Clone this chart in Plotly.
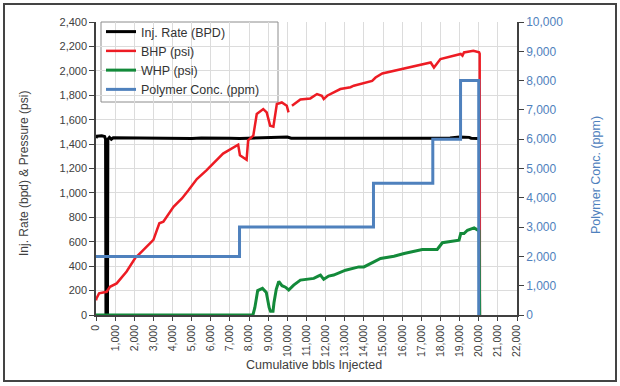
import plotly.graph_objects as go

# ---- data ----
inj_x = [0, 50, 300, 450, 500, 520, 600, 620, 700, 800, 900, 2000, 2800, 4000, 5000, 5500,
         6500, 7000, 7500, 8500, 9000, 10000, 10200, 12000, 14000, 16000, 17000, 18000,
         18500, 19000, 19500, 19600, 19960]
inj_y = [1450, 1465, 1468, 1462, 1440, 0, 0, 1440, 1455, 1440, 1452, 1450, 1445, 1442, 1445,
         1450, 1452, 1448, 1445, 1450, 1458, 1458, 1448, 1447, 1448, 1450, 1448, 1447,
         1450, 1457, 1455, 1448, 1445]

bhp_x = [0, 30, 160, 560, 730, 1080, 1600, 2040, 2480, 3000, 3310, 3520, 4050, 4490, 4830,
         5270, 5770, 6640, 7430, 7520, 7870, 7950, 8220, 8400, 8740, 8920, 9100, 9270, 9450,
         9710, 9970, 10060, 10150, 10240, 10680, 11200, 11550, 11800, 11900, 12080, 12770,
         13300, 13470, 14430, 14610, 14960, 15900, 17490, 17660, 18000, 19060, 19150, 19230,
         19720, 20020, 20050, 20060]
bhp_y = [120, 137, 177, 190, 231, 259, 356, 465, 533, 615, 751, 764, 886, 955, 1022,
         1114, 1185, 1322, 1395, 1308, 1271, 1431, 1469, 1646, 1687, 1660, 1551, 1543, 1728,
         1741, 1714, 1660, None, 1714, 1765, 1774, 1810, 1796, 1769, 1796, 1851,
         1866, 1878, 1918, 1945, 1978, 2013, 2068, 2027, 2096, 2138, 2125, 2151,
         2165, 2151, 2140, 0]

whp_x = [0, 8200, 8300, 8450, 8700, 8900, 9050, 9120, 9250, 9300, 9420, 9550, 9720, 9900,
         10070, 10330, 10680, 11030, 11380, 11640, 11730, 11900, 12160, 12420, 13040, 13730,
         14000, 14520, 14870, 15570, 16100, 17050, 17830, 18100, 18970, 19060, 19230, 19410,
         19760, 20020, 20050]
whp_y = [0, 0, 60, 200, 218, 185, 60, 30, 30, 100, 210, 275, 240, 228,
         205, 245, 286, 295, 300, 320, 327, 292, 319, 327, 367, 394,
         394, 435, 463, 481, 504, 537, 537, 592, 613, 667, 667, 694,
         713, 689, 0]

poly_x = [0, 7500, 14500, 17600, 19050, 20000]
poly_y = [2000, 3000, 4500, 6000, 8000, 0]

x_ticks = list(range(0, 22001, 1000))
y_ticks = list(range(0, 2401, 200))
y2_ticks = list(range(0, 10001, 1000))

series_names = ["Inj. Rate (BPD)", "BHP (psi)", "WHP (psi)", "Polymer Conc. (ppm)"]
x_title = "Cumulative bbls Injected"
y_title = "Inj. Rate (bpd) & Pressure (psi)"
y2_title = "Polymer Conc. (ppm)"

RED = "#ED1C24"
GREEN = "#138A3A"
BLUE = "#4F81BD"
FONT = "Liberation Sans, Arial, sans-serif"
TXT = "#404040"

fig = go.Figure()
fig.add_trace(go.Scatter(x=inj_x, y=inj_y, mode="lines", name=series_names[0],
                         line=dict(color="black", width=3)))
fig.add_trace(go.Scatter(x=bhp_x, y=bhp_y, mode="lines", name=series_names[1],
                         line=dict(color=RED, width=2.5), connectgaps=False))
fig.add_trace(go.Scatter(x=whp_x, y=whp_y, mode="lines", name=series_names[2],
                         line=dict(color=GREEN, width=3)))
fig.add_trace(go.Scatter(x=poly_x, y=poly_y, mode="lines", name=series_names[3],
                         line=dict(color=BLUE, width=3, shape="hv"), yaxis="y2"))

L, R, T, B = 96, 103, 22, 71
W, H = 620, 386
pw, ph = W - L - R, H - T - B


def px(xp):
    return (xp - L) / pw


def py(yp):
    return (H - B - yp) / ph


fig.update_layout(
    width=W, height=H,
    margin=dict(l=L, r=R, t=T, b=B, pad=0),
    paper_bgcolor="white", plot_bgcolor="white",
    font=dict(family=FONT, size=11, color=TXT),
    showlegend=True,
    legend=dict(x=px(101), y=py(17), xanchor="left", yanchor="top",
                bgcolor="rgba(0,0,0,0)", borderwidth=0,
                font=dict(size=12.5, color="#333333"), tracegroupgap=0),
    xaxis=dict(range=[0, 22000], tickvals=x_ticks, tickformat=",", tickangle=-90,
               showgrid=True, gridcolor="#dcdcdc", gridwidth=1,
               showline=True, linecolor="#404040", linewidth=1.5,
               ticks="outside", ticklen=4, tickcolor="#404040",
               zeroline=False, tickfont=dict(size=10.5, color=TXT)),
    yaxis=dict(range=[0, 2400], tickvals=y_ticks, tickformat=",",
               showgrid=True, gridcolor="#dcdcdc", gridwidth=1,
               showline=True, linecolor="#404040", linewidth=1.5,
               ticks="outside", ticklen=5, tickcolor="#404040",
               zeroline=False, tickfont=dict(size=11, color=TXT)),
    yaxis2=dict(range=[0, 10000], tickvals=y2_ticks, tickformat=",", overlaying="y", side="right",
                showgrid=False, showline=True, linecolor="#404040", linewidth=1.5,
                ticks="outside", ticklen=5, tickcolor="#404040", zeroline=False,
                tickfont=dict(size=12, color=BLUE)),
    annotations=[
        dict(text=x_title, xref="paper", yref="paper", x=px(314), y=py(365),
             xanchor="center", yanchor="middle", showarrow=False,
             font=dict(size=12.5, color=TXT)),
        dict(text=y_title, xref="paper", yref="paper", x=px(24), y=py(174),
             xanchor="center", yanchor="middle", showarrow=False, textangle=-90,
             font=dict(size=12, color=TXT)),
        dict(text=y2_title, xref="paper", yref="paper", x=px(596), y=py(175),
             xanchor="center", yanchor="middle", showarrow=False, textangle=-90,
             font=dict(size=12.5, color=BLUE)),
    ],
    shapes=[
        dict(type="rect", xref="paper", yref="paper",
             x0=px(4), x1=px(616), y0=py(381), y1=py(4),
             line=dict(color="#444444", width=2), fillcolor="rgba(0,0,0,0)", layer="below"),
        dict(type="rect", xref="paper", yref="paper",
             x0=px(101), x1=px(278), y0=py(102), y1=py(22),
             line=dict(color="#8c8c8c", width=1), fillcolor="white", layer="between"),
    ],
)

fig.write_html("out.html", config={"displayModeBar": False},
               post_script="document.body.style.margin='0';document.body.style.overflow='hidden';")
